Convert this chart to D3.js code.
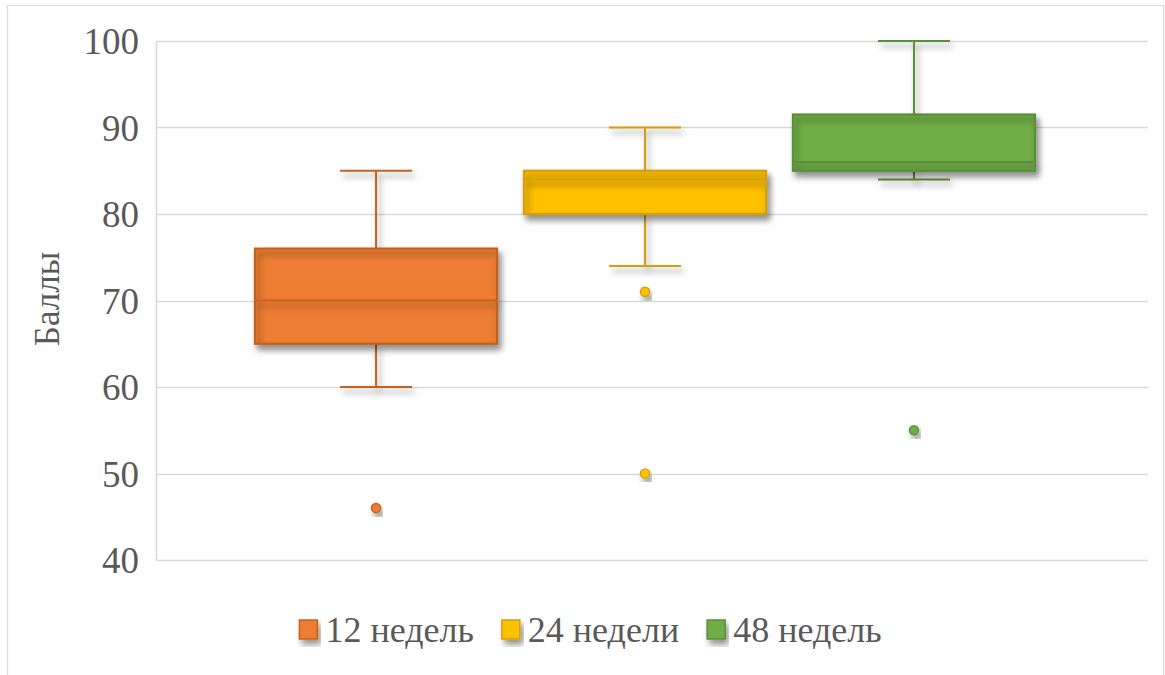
<!DOCTYPE html>
<html>
<head>
<meta charset="utf-8">
<script src="https://cdn.jsdelivr.net/npm/d3@7"></script>
<style>
  body { margin: 0; background: #fff; }
  text { font-family: 'Liberation Serif', 'Times New Roman', Times, 'Nimbus Roman', 'Nimbus Roman No9 L', FreeSerif, 'Noto Serif', 'DejaVu Serif', serif; fill: #595959; }
</style>
</head>
<body>
<svg id="chart" width="1165" height="675"></svg>
<script>
// Score distributions per follow-up period
const seriesNames  = ["12 недель", "24 недели", "48 недель"];
const whiskerLow   = [60, 74, 84];
const q1           = [65, 80, 85];
const median       = [70, 84, 86];
const q3           = [76, 85, 91.5];
const whiskerHigh  = [85, 90, 100];
const outliers     = [[46], [71, 50], [55]];
const yTicks       = [40, 50, 60, 70, 80, 90, 100];
const axisTitle    = "Баллы";

const fills   = ["#ED7D31", "#FFC000", "#70AD47"];
const strokes = ["#C4621F", "#D3A00C", "#5B8D38"];

const svg = d3.select("#chart");
const plot = { left: 156, right: 1148, top: 41, bottom: 560 };

// soft drop shadow used on every mark
const defs = svg.append("defs");
const f = defs.append("filter").attr("id", "shadow")
  .attr("x", "-20%").attr("y", "-20%").attr("width", "140%").attr("height", "160%");
f.append("feDropShadow").attr("dx", 3).attr("dy", 5).attr("stdDeviation", 3)
  .attr("flood-color", "#000").attr("flood-opacity", 0.42);

// chart frame
svg.append("rect").attr("x", 7.5).attr("y", 5.5).attr("width", 1156).attr("height", 700)
  .attr("fill", "none").attr("stroke", "#d9d9d9").attr("stroke-width", 1.2);

const y = d3.scaleLinear().domain([40, 100]).range([plot.bottom, plot.top]);
const x = d3.scaleBand().domain(seriesNames).range([255, 1035]).paddingInner(0.1).paddingOuter(0);

// gridlines
svg.append("g").selectAll("line").data(yTicks).join("line")
  .attr("x1", plot.left).attr("x2", plot.right)
  .attr("y1", d => Math.round(y(d)) + 0.5).attr("y2", d => Math.round(y(d)) + 0.5)
  .attr("stroke", "#d9d9d9").attr("stroke-width", 1.6);
svg.append("line")
  .attr("x1", plot.left + 0.5).attr("x2", plot.left + 0.5)
  .attr("y1", y(100)).attr("y2", y(40) + 1)
  .attr("stroke", "#d9d9d9").attr("stroke-width", 1.6);

// y axis tick labels
const yAxis = d3.axisLeft(y).tickValues(yTicks).tickSize(0).tickPadding(0);
const gy = svg.append("g").attr("transform", `translate(139,0)`).call(yAxis)
  .attr("font-family", null);
gy.select(".domain").remove();
gy.selectAll("text").attr("font-size", 37).attr("fill", "#595959").attr("dy", "0.34em");

// axis title
svg.append("text").attr("transform", "translate(59,299) rotate(-90)")
  .attr("text-anchor", "middle").attr("font-size", 35).text(axisTitle);

// boxes
seriesNames.forEach((name, i) => {
  const g = svg.append("g");
  const x0 = x(name), bw = x.bandwidth(), cx = x0 + bw / 2, cap = 36;
  const c = strokes[i];

  // whiskers
  const wg = g.append("g").attr("filter", "url(#shadow)")
    .attr("stroke", c).attr("stroke-width", 2).attr("fill", "none");
  wg.append("line").attr("x1", cx).attr("x2", cx).attr("y1", y(whiskerHigh[i])).attr("y2", y(q3[i]));
  wg.append("line").attr("x1", cx).attr("x2", cx).attr("y1", y(q1[i])).attr("y2", y(whiskerLow[i]));
  wg.append("line").attr("x1", cx - cap).attr("x2", cx + cap).attr("y1", y(whiskerHigh[i])).attr("y2", y(whiskerHigh[i]));
  wg.append("line").attr("x1", cx - cap).attr("x2", cx + cap).attr("y1", y(whiskerLow[i])).attr("y2", y(whiskerLow[i]));

  // box body
  g.append("rect").attr("x", x0).attr("y", y(q3[i]))
    .attr("width", bw).attr("height", y(q1[i]) - y(q3[i]))
    .attr("fill", fills[i]).attr("filter", "url(#shadow)");
  // outline and median drawn over the fill so their shadows fall on it
  const og = g.append("g").attr("filter", "url(#shadow)");
  og.append("rect").attr("x", x0).attr("y", y(q3[i]))
    .attr("width", bw).attr("height", y(q1[i]) - y(q3[i]))
    .attr("fill", "none").attr("stroke", c).attr("stroke-width", 2.2);
  og.append("line").attr("x1", x0).attr("x2", x0 + bw)
    .attr("y1", y(median[i])).attr("y2", y(median[i]))
    .attr("stroke", c).attr("stroke-width", 2.2);

  // outlier points
  g.append("g").selectAll("circle").data(outliers[i]).join("circle")
    .attr("cx", cx).attr("cy", d => y(d)).attr("r", 4.6)
    .attr("fill", fills[i]).attr("stroke", c).attr("stroke-width", 1.4)
    .attr("filter", "url(#shadow)");
});

// legend
const lg = svg.append("g");
let lx = 0;
seriesNames.forEach((name, i) => {
  const it = lg.append("g").attr("transform", `translate(${lx},0)`);
  it.append("rect").attr("x", 1).attr("y", -10).attr("width", 18).attr("height", 19)
    .attr("fill", fills[i]).attr("stroke", strokes[i]).attr("stroke-width", 1.5)
    .attr("filter", "url(#shadow)");
  const t = it.append("text").attr("x", 27).attr("y", 0).attr("dy", "0.34em")
    .attr("font-size", 36).text(name);
  lx += 27 + t.node().getComputedTextLength() + 27;
});
const legendW = lx - 27;
lg.attr("transform", `translate(${590 - legendW / 2},630)`);
</script>
</body>
</html>
